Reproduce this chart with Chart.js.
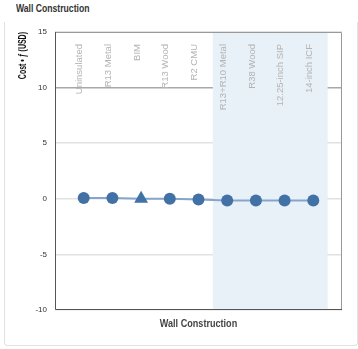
<!DOCTYPE html>
<html>
<head>
<meta charset="utf-8">
<script src="https://cdn.jsdelivr.net/npm/chart.js@4"></script>
<style>
    html, body { margin: 0; padding: 0; background: #fff; overflow: hidden; }
    body { width: 358px; height: 349px; position: relative; }
    .card {
        position: absolute; left: 4px; top: 22px; width: 352px; height: 323px;
        border: 1px solid #e2e2e2; border-top: none;
        border-radius: 0 0 4px 4px;
    }
    .title {
        position: absolute; left: 16px; top: 2px;
        font: bold 11.5px "Liberation Sans", Arial, sans-serif;
        color: #333;
        transform: scaleX(0.75); transform-origin: left top;
    }
    canvas { position: absolute; left: 0; top: 0; }
</style>
</head>
<body>
<div class="card"></div>
<div class="title">Wall Construction</div>
<canvas id="chart" width="358" height="349"></canvas>
<script>
// categories (blank ends keep the first and last point off the frame)
const walls = ["", "Uninsulated", "R13 Metal", "BIM", "R13 Wood", "R2 CMU",
    "R13+R10 Metal", "R38 Wood", "12.25-inch SIP", "14-inch ICF", ""];
const cost = [null, 0.07, 0.07, 0, 0, -0.07, -0.15, -0.15, -0.15, -0.15, null];
const markers = ["circle", "circle", "circle", "triangle", "circle", "circle",
    "circle", "circle", "circle", "circle", "circle"];
const yTicks = [-10, -5, 0, 5, 10, 15];
const bandFrom = 5.5;  // shaded group: R13+R10 Metal .. 14-inch ICF
const bandTo = 9.5;
const xTitle = "Wall Construction";
const yTitle = "Cost • ƒ (USD)";

const boldFont = size => `bold ${size}px "Liberation Sans", Arial, sans-serif`;

const decor = {
    id: "decor",
    beforeDatasetsDraw(chart) {
        const { ctx, chartArea: a, scales } = chart;
        const x = scales.x;
        ctx.save();
        ctx.fillStyle = "#e8f0f8";
        const x0 = x.getPixelForValue(bandFrom);
        const x1 = x.getPixelForValue(bandTo);
        ctx.fillRect(x0, a.top, x1 - x0, a.bottom - a.top);

        // category names, rotated, inside the top of the plot
        ctx.font = '9.5px "Liberation Sans", Arial, sans-serif';
        ctx.fillStyle = "#b4b4b4";
        ctx.textAlign = "right";
        ctx.textBaseline = "middle";
        walls.forEach((w, i) => {
            if (!w) return;
            ctx.save();
            ctx.translate(x.getPixelForValue(i) - 4, a.top + 12);
            ctx.rotate(-Math.PI / 2);
            ctx.fillText(w, 0, 0);
            ctx.restore();
        });
        ctx.restore();
    },
    afterDraw(chart) {
        const { ctx, chartArea: a } = chart;
        ctx.save();
        ctx.lineWidth = 1;
        ctx.strokeStyle = "#999";
        ctx.beginPath();
        ctx.moveTo(a.left, a.top + 0.5);
        ctx.lineTo(a.right - 0.5, a.top + 0.5);
        ctx.lineTo(a.right - 0.5, a.bottom);
        ctx.stroke();
        ctx.strokeStyle = "#555";
        ctx.beginPath();
        ctx.moveTo(a.left + 0.5, a.top);
        ctx.lineTo(a.left + 0.5, a.bottom - 0.5);
        ctx.lineTo(a.right, a.bottom - 0.5);
        ctx.stroke();

        // axis titles in a narrow bold face
        ctx.textBaseline = "middle";
        ctx.fillStyle = "#444";
        ctx.font = boldFont(11.5);
        ctx.textAlign = "center";
        ctx.save();
        ctx.translate((a.left + a.right) / 2, a.bottom + 14);
        ctx.scale(0.79, 1);
        ctx.fillText(xTitle, 0, 0);
        ctx.restore();

        ctx.fillStyle = "#111";
        ctx.font = boldFont(10);
        ctx.textAlign = "right";
        ctx.save();
        ctx.translate(23, a.top);
        ctx.rotate(-Math.PI / 2);
        ctx.scale(0.7, 1);
        ctx.fillText(yTitle, 0, 0);
        ctx.restore();
        ctx.restore();
    }
};

new Chart(document.getElementById("chart"), {
    type: "line",
    data: {
        labels: walls,
        datasets: [{
            data: cost,
            borderColor: "#86a5cc",
            borderWidth: 2,
            pointStyle: markers,
            pointRadius: markers.map(m => m === "triangle" ? 8 : 6),
            pointBackgroundColor: "#4271a6",
            pointBorderColor: "#4271a6",
            pointBorderWidth: 0,
            spanGaps: true
        }]
    },
    options: {
        responsive: false,
        animation: false,
        layout: { padding: { left: 10, right: 16, top: 32, bottom: 11 } },
        plugins: { legend: { display: false }, tooltip: { enabled: false } },
        scales: {
            x: {
                offset: false,
                grid: { display: false },
                border: { display: false },
                ticks: { display: false },
                afterFit: s => { s.height = 28; }
            },
            y: {
                min: -10,
                max: 15,
                afterBuildTicks: s => { s.ticks = yTicks.map(v => ({ value: v })); },
                grid: {
                    drawTicks: false,
                    lineWidth: 1.5,
                    color: c => c.tick && c.tick.value === 10 ? "#a8a8a8" : "#e2e2e2"
                },
                border: { display: false },
                ticks: {
                    padding: 8,
                    color: "#333",
                    font: { family: '"Liberation Sans", Arial, sans-serif', size: 8 }
                },
                afterFit: s => { s.width = 45; }
            }
        }
    },
    plugins: [decor]
});
</script>
</body>
</html>
